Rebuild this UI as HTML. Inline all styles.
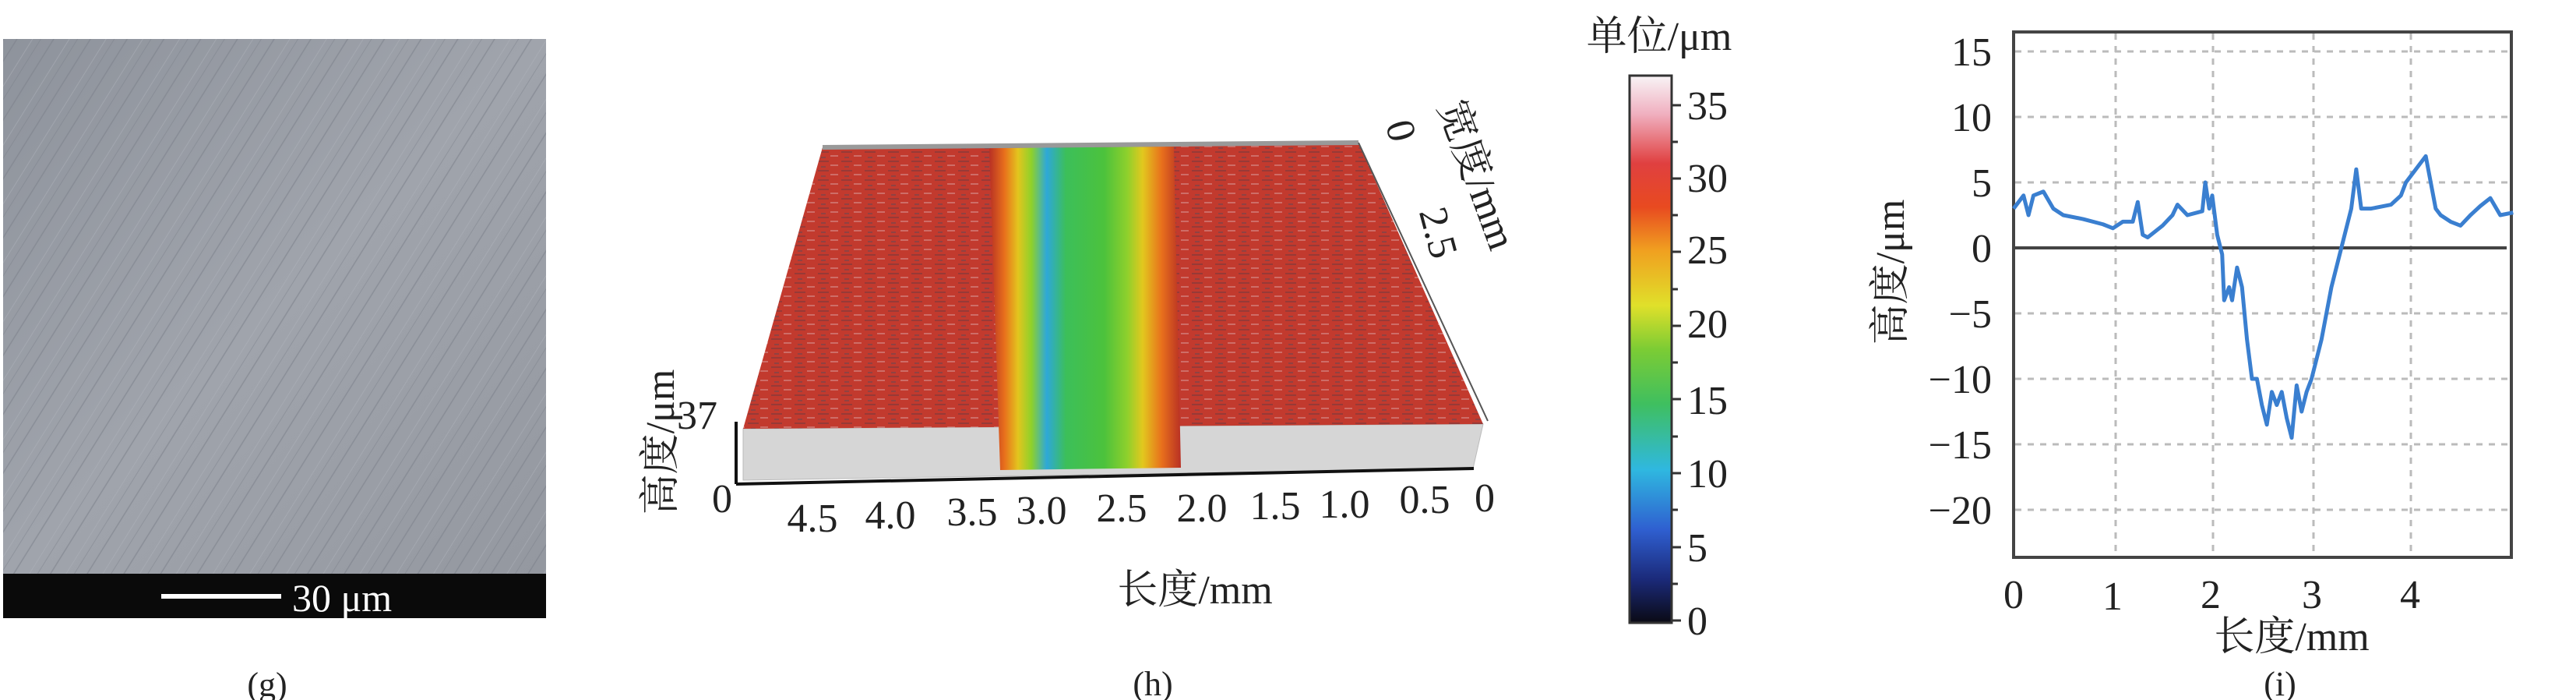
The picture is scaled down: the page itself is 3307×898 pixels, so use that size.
<!DOCTYPE html>
<html><head><meta charset="utf-8"><style>
html,body{margin:0;padding:0;background:#fff;}
svg{display:block;}
text{font-family:"Liberation Serif","Noto Serif CJK SC",serif;fill:#222;}
</style></head><body>
<svg width="3307" height="898" viewBox="0 0 3307 898" xmlns="http://www.w3.org/2000/svg">
<defs>
<linearGradient id="sem" x1="0" y1="0" x2="1" y2="1">
<stop offset="0" stop-color="#8e939c"/><stop offset="0.5" stop-color="#a0a4ac"/><stop offset="1" stop-color="#9498a0"/>
</linearGradient>
<pattern id="streak" width="40" height="40" patternUnits="userSpaceOnUse" patternTransform="rotate(32)">
<rect width="40" height="40" fill="none"/>
<line x1="5" y1="0" x2="5" y2="40" stroke="#7b808a" stroke-width="1.5" opacity="0.6"/>
<line x1="22" y1="0" x2="22" y2="40" stroke="#b0b4bb" stroke-width="1" opacity="0.5"/>
<line x1="31" y1="0" x2="31" y2="40" stroke="#757a84" stroke-width="1" opacity="0.4"/>
</pattern>
<linearGradient id="trough" x1="0" y1="0" x2="1" y2="0">
<stop offset="0" stop-color="#b83024"/><stop offset="0.08" stop-color="#e8701c"/><stop offset="0.15" stop-color="#e3c51e"/>
<stop offset="0.22" stop-color="#8fd12a"/><stop offset="0.3" stop-color="#2ea8d8"/><stop offset="0.4" stop-color="#3cbf5a"/>
<stop offset="0.6" stop-color="#4cc23c"/><stop offset="0.72" stop-color="#8ed02c"/><stop offset="0.8" stop-color="#e2c81e"/>
<stop offset="0.9" stop-color="#e8701c"/><stop offset="1" stop-color="#b83024"/>
</linearGradient>
<pattern id="redtex" width="30" height="12" patternUnits="userSpaceOnUse">
<rect width="30" height="12" fill="#c23a2e"/>
<rect x="0" y="2" width="14" height="2" fill="#7a3a3e" opacity="0.6"/>
<rect x="16" y="7" width="10" height="2" fill="#d9a0a0" opacity="0.5"/>
<rect x="4" y="9" width="6" height="2" fill="#5e4a55" opacity="0.5"/>
</pattern>
<linearGradient id="cbar" x1="0" y1="1" x2="0" y2="0">
<stop offset="0" stop-color="#0a0a14"/><stop offset="0.08" stop-color="#1b2a7a"/><stop offset="0.17" stop-color="#2f5fd0"/>
<stop offset="0.28" stop-color="#2fb8e0"/><stop offset="0.4" stop-color="#3fbf5f"/><stop offset="0.5" stop-color="#7ccc34"/>
<stop offset="0.58" stop-color="#e0e02a"/><stop offset="0.68" stop-color="#f0a020"/><stop offset="0.76" stop-color="#e84a20"/>
<stop offset="0.84" stop-color="#e04040"/><stop offset="0.93" stop-color="#f0b0c0"/><stop offset="1" stop-color="#f8f4f6"/>
</linearGradient>
</defs>

<!-- (g) SEM -->
<rect x="4" y="50" width="697" height="690" fill="url(#sem)"/>
<rect x="4" y="50" width="697" height="690" fill="url(#streak)"/>
<rect x="4" y="736" width="697" height="57" fill="#0a0a0a"/>
<rect x="207" y="762" width="154" height="6" fill="#fff"/>
<text x="375" y="784" font-size="50" style="fill:#fff">30 μm</text>
<text x="343" y="893" font-size="44" text-anchor="middle">(g)</text>

<!-- (h) 3D -->
<polygon points="954,550 1904,544 1891,601 954,616" fill="#d6d6d6" stroke="#bbb"/>
<polygon points="1056,189 1744,183 1904,544 954,550" fill="url(#redtex)"/>
<polygon points="1270,190 1507,188 1516,600 1284,603" fill="url(#trough)"/>
<line x1="1056" y1="189" x2="1744" y2="183" stroke="#999" stroke-width="6"/>
<line x1="945" y1="541" x2="945" y2="621" stroke="#111" stroke-width="4"/>
<line x1="945" y1="621" x2="1892" y2="601" stroke="#111" stroke-width="4"/>
<line x1="1744" y1="183" x2="1910" y2="540" stroke="#555" stroke-width="2"/>
<g font-size="52">
<text x="927" y="657" text-anchor="middle">0</text>
<text x="1043" y="682" text-anchor="middle">4.5</text>
<text x="1143" y="678" text-anchor="middle">4.0</text>
<text x="1248" y="674" text-anchor="middle">3.5</text>
<text x="1337" y="672" text-anchor="middle">3.0</text>
<text x="1440" y="669" text-anchor="middle">2.5</text>
<text x="1543" y="669" text-anchor="middle">2.0</text>
<text x="1637" y="666" text-anchor="middle">1.5</text>
<text x="1726" y="664" text-anchor="middle">1.0</text>
<text x="1829" y="658" text-anchor="middle">0.5</text>
<text x="1906" y="656" text-anchor="middle">0</text>
<text x="1534" y="774" text-anchor="middle">长度/mm</text>
<text x="895" y="550" text-anchor="middle">37</text>
<text transform="translate(865,567) rotate(-90)" text-anchor="middle">高度/μm</text>
<text transform="translate(1782,172) rotate(75)" text-anchor="middle">0</text>
<text transform="translate(1830,303) rotate(75)" text-anchor="middle">2.5</text>
<text transform="translate(1880,230) rotate(70)" text-anchor="middle">宽度/mm</text>
</g>
<text x="1480" y="892" font-size="44" text-anchor="middle">(h)</text>

<!-- colorbar -->
<rect x="2092" y="97" width="54" height="702" fill="url(#cbar)" stroke="#333" stroke-width="3"/>
<g stroke="#333" stroke-width="3">
<line x1="2146" y1="135" x2="2158" y2="135"/><line x1="2146" y1="182" x2="2154" y2="182"/>
<line x1="2146" y1="229" x2="2158" y2="229"/><line x1="2146" y1="276" x2="2154" y2="276"/>
<line x1="2146" y1="323" x2="2158" y2="323"/><line x1="2146" y1="371" x2="2154" y2="371"/>
<line x1="2146" y1="418" x2="2158" y2="418"/><line x1="2146" y1="465" x2="2154" y2="465"/>
<line x1="2146" y1="512" x2="2158" y2="512"/><line x1="2146" y1="560" x2="2154" y2="560"/>
<line x1="2146" y1="607" x2="2158" y2="607"/><line x1="2146" y1="654" x2="2154" y2="654"/>
<line x1="2146" y1="702" x2="2158" y2="702"/><line x1="2146" y1="749" x2="2154" y2="749"/>
<line x1="2146" y1="796" x2="2158" y2="796"/>
</g>
<g font-size="52">
<text x="2166" y="153">35</text><text x="2166" y="246">30</text><text x="2166" y="338">25</text>
<text x="2166" y="433">20</text><text x="2166" y="531">15</text><text x="2166" y="625">10</text>
<text x="2166" y="720">5</text><text x="2166" y="814">0</text>
<text x="2130" y="64" text-anchor="middle">单位/μm</text>
</g>

<!-- (i) profile -->
<rect x="2585" y="41" width="639" height="674" fill="#fff" stroke="#444" stroke-width="4"/>
<g stroke="#bbb" stroke-width="3" stroke-dasharray="8,8">
<line x1="2716" y1="43" x2="2716" y2="713"/><line x1="2841" y1="43" x2="2841" y2="713"/>
<line x1="2970" y1="43" x2="2970" y2="713"/><line x1="3095" y1="43" x2="3095" y2="713"/>
<line x1="2587" y1="66" x2="3222" y2="66"/><line x1="2587" y1="150" x2="3222" y2="150"/>
<line x1="2587" y1="234" x2="3222" y2="234"/><line x1="2587" y1="402" x2="3222" y2="402"/>
<line x1="2587" y1="486" x2="3222" y2="486"/><line x1="2587" y1="570" x2="3222" y2="570"/>
<line x1="2587" y1="654" x2="3222" y2="654"/>
</g>
<line x1="2585" y1="318" x2="3218" y2="318" stroke="#444" stroke-width="4"/>
<g transform="translate(2585,318) scale(127.5,-16.8)">
<polyline fill="none" stroke="#3a7fd0" stroke-width="5" vector-effect="non-scaling-stroke" stroke-linejoin="round"
points="0,3 0.1,4 0.15,2.5 0.2,4 0.3,4.3 0.4,3 0.5,2.5 0.7,2.2 0.9,1.8 1,1.5 1.1,2 1.2,2 1.25,3.5 1.3,1 1.35,0.8 1.5,1.7 1.6,2.5 1.65,3.3 1.75,2.5 1.9,2.8 1.93,5 1.97,3 2.0,4 2.05,1 2.1,-0.5 2.12,-4 2.17,-3 2.2,-4 2.25,-1.5 2.3,-3 2.35,-7 2.4,-10 2.45,-10 2.5,-12 2.55,-13.5 2.6,-11 2.65,-12 2.7,-11 2.75,-13 2.8,-14.5 2.85,-10.5 2.9,-12.5 2.95,-11 3.0,-10 3.1,-7 3.2,-3 3.3,0 3.4,3 3.45,6 3.5,3 3.6,3 3.8,3.3 3.9,4 3.95,5 4.0,5.5 4.1,6.5 4.15,7 4.25,3 4.3,2.5 4.4,2 4.5,1.7 4.6,2.5 4.7,3.2 4.8,3.8 4.9,2.5 5.03,2.7"/>
</g>
<g font-size="52" text-anchor="end">
<text x="2557" y="84">15</text><text x="2557" y="168">10</text><text x="2557" y="252">5</text>
<text x="2557" y="336">0</text><text x="2557" y="420">−5</text><text x="2557" y="504">−10</text>
<text x="2557" y="588">−15</text><text x="2557" y="672">−20</text>
</g>
<g font-size="52" text-anchor="middle">
<text x="2585" y="780">0</text><text x="2712" y="782">1</text><text x="2838" y="780">2</text>
<text x="2968" y="780">3</text><text x="3094" y="780">4</text>
<text x="2942" y="834">长度/mm</text>
<text transform="translate(2444,349) rotate(-90)">高度/μm</text>
</g>
<text x="2927" y="892" font-size="44" text-anchor="middle">(i)</text>
</svg>
</body></html>
